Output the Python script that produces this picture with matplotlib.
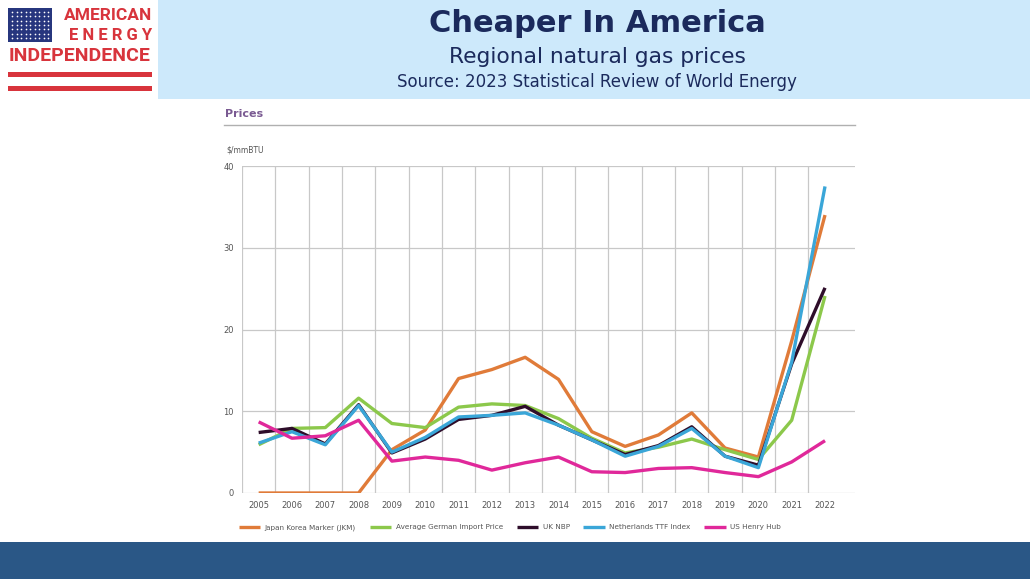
import matplotlib.pyplot as plt
import matplotlib.patches as patches
import numpy as np

years = list(range(2005, 2023))

jkm = [0, 0, 0, 0, 5.3, 7.7, 14.0, 15.1, 16.6, 13.9, 7.5, 5.7, 7.1, 9.8, 5.5, 4.4, 18.6, 34.0]
german = [5.9, 7.9, 8.0, 11.6, 8.5, 8.0, 10.5, 10.9, 10.7, 9.1, 6.7, 4.9, 5.6, 6.6, 5.3, 4.1, 8.9, 24.1]
uk_nbp = [7.4, 7.9, 6.0, 10.8, 4.9, 6.6, 9.0, 9.5, 10.6, 8.3, 6.5, 4.7, 5.8, 8.1, 4.5, 3.4, 15.8, 25.1]
ttf = [6.1, 7.5, 5.9, 10.7, 5.0, 6.8, 9.3, 9.5, 9.8, 8.3, 6.5, 4.5, 5.7, 7.9, 4.5, 3.1, 16.0, 37.5]
henry_hub = [8.7, 6.7, 7.0, 8.9, 3.9, 4.4, 4.0, 2.8, 3.7, 4.4, 2.6, 2.5, 3.0, 3.1, 2.5, 2.0, 3.8, 6.4]

series = [
    ("Japan Korea Marker (JKM)", jkm, "#e07b39"),
    ("Average German Import Price", german, "#8cc84b"),
    ("UK NBP", uk_nbp, "#2e0d2a"),
    ("Netherlands TTF Index", ttf, "#3aa6d8"),
    ("US Henry Hub", henry_hub, "#e0289a"),
]
# draw order (back to front) roughly as in the picture
draw_order = [1, 0, 3, 2, 4]

navy = "#1b2a5c"
red = "#d8343c"
logo_font = ["Roboto", "DejaVu Sans"]

fig = plt.figure(figsize=(10.3, 5.79), dpi=100)
fig.patch.set_facecolor("white")

# overlay axes in pixel coordinates for header, logo and chart heading
deco = fig.add_axes([0, 0, 1, 1], facecolor="none", zorder=0)
deco.set_xlim(0, 1030)
deco.set_ylim(579, 0)
deco.axis("off")

deco.add_patch(patches.Rectangle((158, 0), 872, 99, facecolor="#cde9fb", edgecolor="none"))
deco.add_patch(patches.Rectangle((0, 542), 1030, 37, facecolor="#2a5786", edgecolor="none"))

# logo
deco.add_patch(patches.Rectangle((8, 8), 44, 34, facecolor="#27367e", edgecolor="none"))
sx, sy = np.meshgrid(np.linspace(12, 48, 9), np.linspace(12, 38, 7))
deco.scatter(sx.ravel(), sy.ravel(), s=1.5, color="white", lw=0, zorder=3)
for ys in (72, 86):
    deco.add_patch(patches.Rectangle((8, ys), 144, 5, facecolor=red, edgecolor="none"))
deco.text(152, 16, "AMERICAN", color=red, fontsize=12.5, fontweight="bold",
          family=logo_font, ha="right", va="center")
deco.text(152, 35, "E N E R G Y", color=red, fontsize=12, fontweight="bold",
          family=logo_font, ha="right", va="center")
deco.text(80, 56, "INDEPENDENCE", color=red, fontsize=14, fontweight="bold",
          family=logo_font, ha="center", va="center")

# titles
deco.text(597, 24, "Cheaper In America", color=navy, fontsize=22,
          fontweight="bold", ha="center", va="center")
deco.text(597, 57, "Regional natural gas prices", color=navy,
          fontsize=15.7, ha="center", va="center")
deco.text(597, 82, "Source: 2023 Statistical Review of World Energy",
          color=navy, fontsize=12, ha="center", va="center")

# chart heading
deco.text(225, 114, "Prices", color="#7a5a92", fontsize=8, fontweight="bold",
          ha="left", va="center")
deco.plot([224, 855], [125, 125], color="#b0b0b0", lw=1)
deco.text(226, 150, "$/mmBTU", color="#555555", fontsize=5.5, ha="left", va="center")

ax = fig.add_axes([242 / 1030, 1 - 493 / 579, (855 - 242) / 1030, (493 - 166) / 579], zorder=1)
for i in draw_order:
    label, vals, col = series[i]
    ax.plot(years, vals, color=col, lw=2.4, label=label, zorder=3 + i * 0.1,
            solid_capstyle="butt")

ax.set_xlim(2004.5, 2022.9)
ax.set_ylim(0, 40)
ax.set_yticks([0, 10, 20, 30, 40])
ax.set_xticks(years)
ax.set_xticks(np.arange(2004.5, 2022, 1.0), minor=True)
ax.grid(axis="y", which="major", color="#c8c8c8", lw=0.9)
ax.grid(axis="x", which="minor", color="#c8c8c8", lw=0.9)
ax.tick_params(axis="both", which="both", length=0, labelsize=6, labelcolor="#555555")
ax.tick_params(axis="x", pad=6)
ax.tick_params(axis="y", pad=6)
for s in ax.spines.values():
    s.set_visible(False)
ax.set_facecolor("none")

handles, labels = ax.get_legend_handles_labels()
order = [labels.index(s[0]) for s in series]
leg = ax.legend([handles[k] for k in order], [labels[k] for k in order],
                loc="upper left", bbox_to_anchor=(-0.016, -0.076), ncol=5, frameon=False,
                fontsize=5.2, handlelength=3.0, columnspacing=1.9, handletextpad=0.6,
                borderpad=0.4)
for t in leg.get_texts():
    t.set_color("#555555")

fig.savefig("out.png", dpi=100)
